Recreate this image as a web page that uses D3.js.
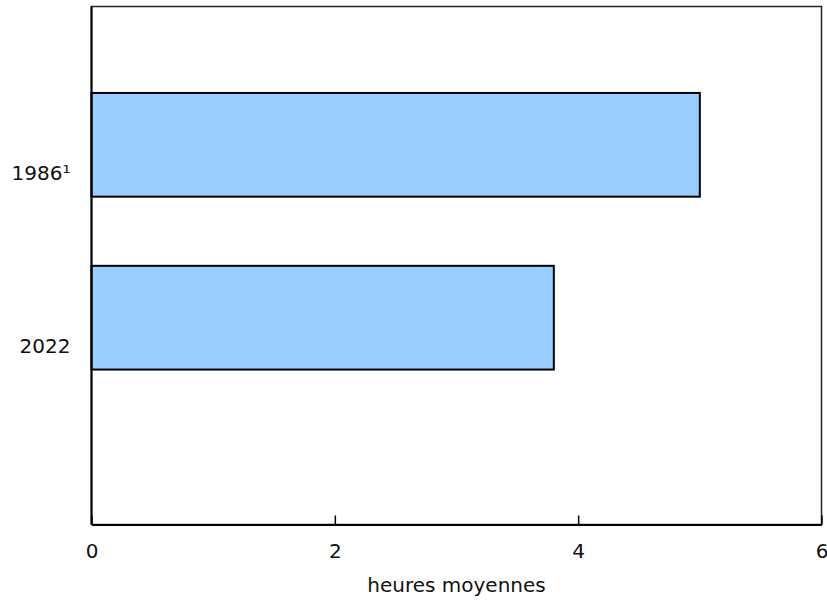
<!DOCTYPE html>
<html>
<head>
<meta charset="utf-8">
<script src="https://cdn.jsdelivr.net/npm/d3@7"></script>
<style>
  body{margin:0;background:#fff;}
  svg{display:block;}
</style>
</head>
<body>
<svg id="chart" width="827" height="600"></svg>
<script>
// values
const years  = ['1986¹','2022'];
const hours  = [5.0, 3.8];
const xTicks = [0, 2, 4, 6];
const xTitle = 'heures moyennes';

const FONT='"DejaVu Sans",Verdana,sans-serif', FS=20;
const M={left:91.5,right:821.5,top:6.5,bottom:524.5};
const svg=d3.select('#chart');

const x=d3.scaleLinear().domain([0,6]).range([M.left,M.right]);
const y=d3.scaleBand().domain(years).range([M.top,456]).paddingInner(0.4).paddingOuter(0.5);

// frame (top + right)
svg.append('rect').attr('x',M.left).attr('y',M.top)
  .attr('width',M.right-M.left).attr('height',M.bottom-M.top)
  .attr('fill','none').attr('stroke','#222').attr('stroke-width',1.5);

// bars
svg.append('g').selectAll('rect').data(years).join('rect')
  .attr('x',x(0)).attr('y',d=>y(d))
  .attr('width',(d,i)=>x(hours[i])-x(0)).attr('height',y.bandwidth())
  .attr('fill','#99ccff').attr('stroke','#000').attr('stroke-width',2);

// x axis, ticks pointing inward
const xa=svg.append('g').attr('transform',`translate(0,${M.bottom})`)
  .call(d3.axisBottom(x).tickValues(xTicks).tickFormat(d3.format('d')).tickSizeInner(-9).tickSizeOuter(0).tickPadding(19));
xa.attr('font-family',FONT).attr('font-size',FS);
xa.select('.domain').attr('stroke','#000').attr('stroke-width',2);
xa.selectAll('.tick line').attr('stroke','#000').attr('stroke-width',1.5);
xa.selectAll('.tick text').attr('fill','#111');

// y axis labels (no ticks)
const ya=svg.append('g').attr('transform',`translate(${M.left},0)`)
  .call(d3.axisLeft(y).tickSize(0).tickPadding(21));
ya.attr('font-family',FONT).attr('font-size',FS);
ya.select('.domain').remove();
ya.selectAll('.tick text').attr('dy','1.75em').attr('fill','#111');
svg.append('line').attr('x1',M.left).attr('x2',M.left).attr('y1',M.top).attr('y2',M.bottom)
  .attr('stroke','#000').attr('stroke-width',2);

svg.append('text').attr('x',(M.left+M.right)/2).attr('y',592)
  .attr('text-anchor','middle').attr('font-family',FONT).attr('font-size',FS).attr('fill','#111')
  .text(xTitle);
</script>
</body>
</html>
